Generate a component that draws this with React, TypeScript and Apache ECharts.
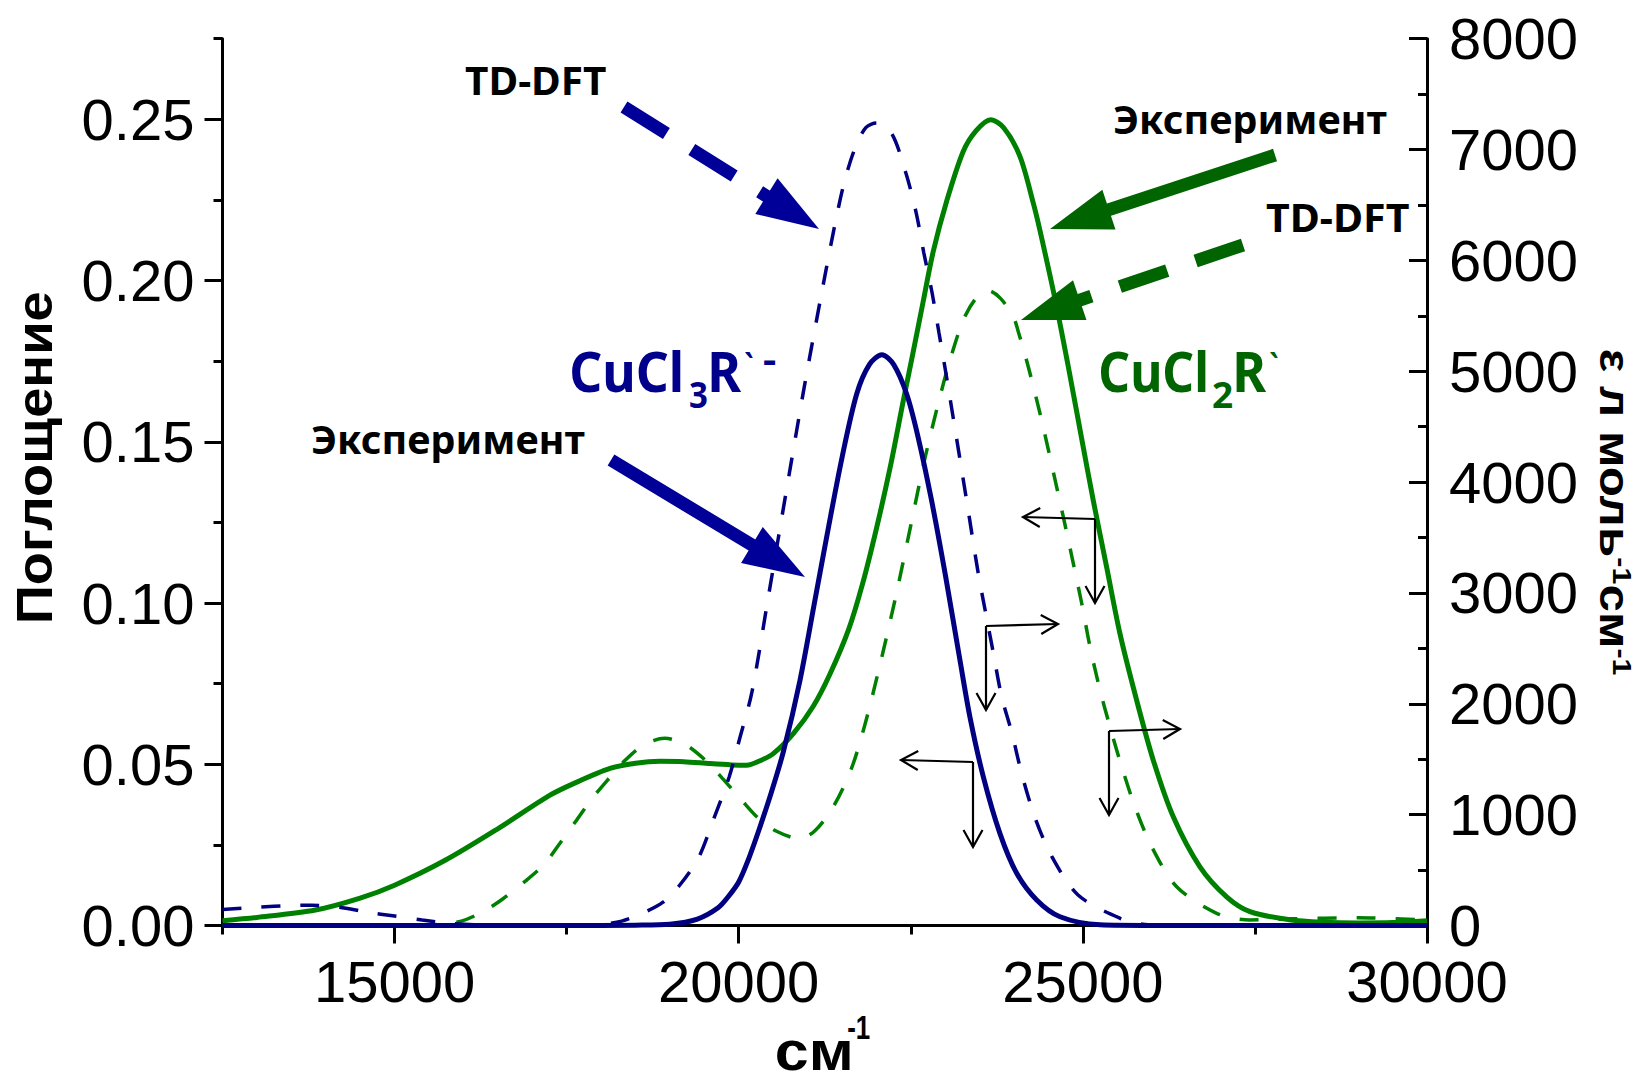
import React, { useEffect, useRef } from "react";
import * as echarts from "echarts";

// ---------- axes ----------
const xTickValues = [15000, 20000, 25000, 30000];
const xMinorTicks = [12500, 17500, 22500, 27500];
const absTickValues = [0, 0.05, 0.1, 0.15, 0.2, 0.25];
const absMinorTicks = [0.025, 0.075, 0.125, 0.175, 0.225, 0.275];
const epsTickValues = [0, 1000, 2000, 3000, 4000, 5000, 6000, 7000, 8000];
const epsMinorTicks = [500, 1500, 2500, 3500, 4500, 5500, 6500, 7500];

// ---------- CuCl3R`- experiment (absorbance, left axis) ----------
const cucl3ExpX = [12500, 17500, 18500, 19000, 19400, 19700, 19850, 20000, 20150, 20300, 20470, 20650, 20890, 21100, 21300, 21500, 21714, 21900, 22080, 22250, 22440, 22600, 22800, 23000, 23215, 23360, 23554, 23796, 24039, 24329, 24668, 25249, 26000, 30000];
const cucl3ExpA = [0, 0, 0.0001, 0.0004, 0.002, 0.0055, 0.009, 0.0135, 0.021, 0.03, 0.041, 0.054, 0.076, 0.1, 0.123, 0.145, 0.1648, 0.174, 0.177, 0.174, 0.1648, 0.152, 0.132, 0.109, 0.0822, 0.0646, 0.0461, 0.0285, 0.0162, 0.0079, 0.0027, 0.0002, 0, 0];

// ---------- CuCl3R`- TD-DFT (epsilon, right axis) ----------
const cucl3CalcX = [12500, 13000, 13500, 13800, 14200, 14600, 15000, 15400, 15800, 16200, 16600, 17500, 18000, 18300, 18600, 18900, 19150, 19420, 19630, 19860, 20020, 20190, 20440, 20700, 20950, 21200, 21400, 21540, 21700, 21850, 22000, 22220, 22430, 22580, 22690, 22810, 22910, 23010, 23310, 23480, 23580, 23700, 23820, 23970, 24110, 24300, 24550, 24930, 25540, 25900, 26500, 30000];
const cucl3CalcEps = [145, 165, 180, 183, 165, 120, 85, 50, 20, 5, 0, 0, 10, 40, 110, 210, 370, 617, 950, 1338, 1700, 2100, 3000, 3950, 4850, 5690, 6330, 6720, 7030, 7200, 7240, 7147, 6786, 6425, 6066, 5706, 5345, 4984, 3839, 3177, 2846, 2456, 2064, 1734, 1373, 981, 621, 275, 65, 10, 0, 0];

// ---------- CuCl2R` experiment (absorbance, left axis) ----------
const cucl2ExpX = [12500, 13000, 13850, 14500, 15000, 15742, 16500, 17258, 17600, 18130, 18500, 18856, 19200, 19583, 19900, 20116, 20300, 20502, 20793, 21083, 21326, 21600, 21800, 22000, 22200, 22391, 22536, 22682, 22827, 23021, 23263, 23450, 23660, 23850, 24086, 24280, 24377, 24600, 24800, 25000, 25152, 25346, 25539, 25782, 26024, 26314, 26701, 27089, 27428, 28000, 28500, 29000, 29500, 30000];
const cucl2ExpA = [0.0015, 0.0025, 0.0048, 0.0085, 0.0125, 0.0203, 0.03, 0.0404, 0.044, 0.0487, 0.0503, 0.0509, 0.0508, 0.0502, 0.0498, 0.0497, 0.051, 0.0533, 0.0595, 0.068, 0.078, 0.092, 0.106, 0.123, 0.142, 0.1627, 0.178, 0.1937, 0.2091, 0.2246, 0.2401, 0.2465, 0.2499, 0.2474, 0.2385, 0.224, 0.2155, 0.1938, 0.172, 0.149, 0.1317, 0.1111, 0.0905, 0.0698, 0.0512, 0.0337, 0.0182, 0.0089, 0.0043, 0.0018, 0.001, 0.0008, 0.0009, 0.0015];

// ---------- CuCl2R` TD-DFT (epsilon, right axis) ----------
const cucl2CalcX = [12500, 15000, 15600, 15970, 16300, 16576, 16900, 17182, 17400, 17636, 17850, 18091, 18350, 18621, 18924, 19205, 19500, 19760, 20030, 20290, 20550, 20870, 21100, 21370, 21640, 21850, 22090, 22300, 22500, 22700, 22924, 23070, 23263, 23450, 23626, 23800, 23989, 24062, 24207, 24400, 24715, 24861, 24983, 25104, 25249, 25394, 25564, 25757, 26000, 26363, 26944, 27428, 28000, 29000, 30000];
const cucl2CalcEps = [0, 0, 10, 40, 130, 241, 400, 558, 740, 943, 1130, 1310, 1490, 1630, 1690, 1640, 1500, 1330, 1140, 965, 850, 785, 850, 1067, 1420, 1850, 2450, 3020, 3610, 4200, 4770, 5101, 5462, 5660, 5727, 5660, 5492, 5357, 5041, 4560, 3688, 3267, 2907, 2515, 2124, 1793, 1433, 1072, 711, 350, 110, 50, 60, 70, 50];

// ---------- styles ----------
const NAVY = "#000080";
const GREEN = "#008000";
const ARROW_BLUE = "#000099";
const ARROW_GREEN = "#006400";
const TEXT_BLUE = "#00008B";
const TEXT_GREEN = "#006400";
const AXIS_FONT = "Liberation Sans";
const NOTE_FONT = "Noto Sans";

const pairs = (xs: number[], ys: number[]) => xs.map((x, i) => [x, ys[i]]);

let mctx: CanvasRenderingContext2D | null = null;
function measure(text: string, size: number, family: string, weight: string) {
  if (!mctx) mctx = document.createElement("canvas").getContext("2d");
  const ctx = mctx!;
  ctx.font = `${weight} ${size}px "${family}"`;
  const m = ctx.measureText(text);
  return {
    adv: m.width,
    abl: m.actualBoundingBoxLeft,
    abr: m.actualBoundingBoxRight,
    central: (m.fontBoundingBoxAscent - m.fontBoundingBoxDescent) / 2,
  };
}

function textStyle(text: string, size: number, family: string, weight: string, color: string) {
  return {
    text,
    fontSize: size,
    fontFamily: family,
    fontWeight: weight,
    fill: color,
    textAlign: "left",
    align: "left",
    textVerticalAlign: "middle",
    verticalAlign: "middle",
  };
}

// horizontal text piece: ink from inkLeft to inkRight, baseline y
function piece(text: string, inkLeft: number, inkRight: number | null, baseline: number, size: number, family: string, weight: string, color: string) {
  const m = measure(text, size, family, weight);
  const ink = m.abl + m.abr;
  const sx = inkRight != null ? (inkRight - inkLeft) / ink : 1;
  return {
    type: "text",
    z: 120,
    x: inkLeft + m.abl * sx,
    y: baseline - m.central,
    scaleX: sx,
    style: textStyle(text, size, family, weight, color),
  };
}

// rotated run of pieces; origin = baseline point where ink starts
type Run = { text: string; size: number; rise?: number };
function rotatedRun(runs: Run[], ox: number, oy: number, theta: number, targetLen: number, family: string, weight: string, color: string) {
  const ms = runs.map((r) => measure(r.text, r.size, family, weight));
  const lb = -ms[0].abl;
  const last = ms[ms.length - 1];
  const rb = last.adv - last.abr;
  const total = ms.reduce((s, m) => s + m.adv, 0) - lb - rb;
  const s = targetLen / total;
  const ct = Math.cos(theta);
  const st = Math.sin(theta);
  let pen = -lb * s;
  const els: any[] = [];
  runs.forEach((r, i) => {
    const m = ms[i];
    const lx = pen;
    const ly = -(r.rise || 0) - m.central;
    els.push({
      type: "text",
      z: 120,
      x: ox + ct * lx + st * ly,
      y: oy - st * lx + ct * ly,
      rotation: theta,
      scaleX: s,
      style: textStyle(r.text, r.size, family, weight, color),
    });
    pen += m.adv * s;
  });
  return els;
}

function fatArrow(x1: number, y1: number, x2: number, y2: number, color: string, dash?: number[]) {
  const shaftW = 13;
  const headL = 62;
  const headW = 42;
  const dx = x2 - x1;
  const dy = y2 - y1;
  const L = Math.hypot(dx, dy);
  const ux = dx / L;
  const uy = dy / L;
  const px = -uy;
  const py = ux;
  const bx = x2 - ux * headL;
  const by = y2 - uy * headL;
  return [
    {
      type: "line",
      z: 110,
      shape: { x1, y1, x2: bx + ux * 3, y2: by + uy * 3 },
      style: { stroke: color, lineWidth: shaftW, lineDash: dash || null, lineCap: "butt" },
    },
    {
      type: "polygon",
      z: 110,
      shape: {
        points: [
          [x2, y2],
          [bx + (px * headW) / 2, by + (py * headW) / 2],
          [bx - (px * headW) / 2, by - (py * headW) / 2],
        ],
      },
      style: { fill: color },
    },
  ];
}

function thinArrow(x1: number, y1: number, x2: number, y2: number) {
  const dx = x2 - x1;
  const dy = y2 - y1;
  const L = Math.hypot(dx, dy);
  const ux = dx / L;
  const uy = dy / L;
  const px = -uy;
  const py = ux;
  const hl = 17;
  const hw = 9.5;
  const st = { stroke: "#000", lineWidth: 2.2, fill: null };
  return [
    { type: "line", z: 115, shape: { x1, y1, x2, y2 }, style: st },
    {
      type: "polyline",
      z: 115,
      shape: {
        points: [
          [x2 - ux * hl + px * hw, y2 - uy * hl + py * hw],
          [x2, y2],
          [x2 - ux * hl - px * hw, y2 - uy * hl - py * hw],
        ],
      },
      style: st,
    },
  ];
}

function buildGraphics() {
  const els: any[] = [];
  // big arrows
  els.push(...fatArrow(624, 107, 819, 229, ARROW_BLUE, [50, 30]));
  els.push(...fatArrow(611, 460, 805, 577, ARROW_BLUE));
  els.push(...fatArrow(1275, 155, 1050, 229, ARROW_GREEN));
  els.push(...fatArrow(1243, 245, 1021, 320, ARROW_GREEN, [50, 30]));
  // small L-shaped pointers
  els.push(...thinArrow(1095, 519, 1023, 517));
  els.push(...thinArrow(1095, 519, 1095, 603));
  els.push(...thinArrow(986, 626, 1058, 624));
  els.push(...thinArrow(986, 626, 986, 710));
  els.push(...thinArrow(1109, 731, 1180, 729));
  els.push(...thinArrow(1109, 731, 1109, 815));
  els.push(...thinArrow(973, 762, 901, 760));
  els.push(...thinArrow(973, 762, 973, 847));

  // annotation texts
  els.push(piece("TD-DFT", 465, 606, 95, 39, NOTE_FONT, "bold", "#000"));
  els.push(piece("Эксперимент", 1114, 1387, 135, 39, NOTE_FONT, "bold", "#000"));
  els.push(piece("TD-DFT", 1266, 1409, 232, 39, NOTE_FONT, "bold", "#000"));
  els.push(piece("Эксперимент", 312, 585, 455, 39, NOTE_FONT, "bold", "#000"));

  // CuCl3R`-
  els.push(piece("CuCl", 572, 681, 392, 55, NOTE_FONT, "bold", TEXT_BLUE));
  els.push(piece("3", 690, 707, 408, 35, NOTE_FONT, "bold", TEXT_BLUE));
  els.push(piece("R", 711, 742, 392, 55, NOTE_FONT, "bold", TEXT_BLUE));
  els.push(piece("`", 745, 753, 380, 35, NOTE_FONT, "bold", TEXT_BLUE));
  els.push(piece("-", 763, 776, 372, 35, NOTE_FONT, "bold", TEXT_BLUE));
  // CuCl2R`
  els.push(piece("CuCl", 1101, 1206, 392, 55, NOTE_FONT, "bold", TEXT_GREEN));
  els.push(piece("2", 1213, 1232, 408, 35, NOTE_FONT, "bold", TEXT_GREEN));
  els.push(piece("R", 1236, 1267, 392, 55, NOTE_FONT, "bold", TEXT_GREEN));
  els.push(piece("`", 1270, 1278, 380, 35, NOTE_FONT, "bold", TEXT_GREEN));

  // x axis name
  els.push(piece("см", 777, 850, 1070, 56, AXIS_FONT, "bold", "#000"));
  els.push(piece("-1", 848, 870, 1039, 33, AXIS_FONT, "bold", "#000"));

  // left axis name (reads bottom to top)
  els.push(...rotatedRun([{ text: "Поглощение", size: 50 }], 52, 621, Math.PI / 2, 329, AXIS_FONT, "bold", "#000"));
  // right axis name (reads top to bottom)
  els.push(
    ...rotatedRun(
      [
        { text: "ε л моль", size: 42 },
        { text: "-1", size: 26, rise: 13 },
        { text: "см", size: 42 },
        { text: "-1", size: 26, rise: 13 },
      ],
      1600,
      350,
      -Math.PI / 2,
      325,
      AXIS_FONT,
      "bold",
      "#000"
    )
  );
  return els;
}

function buildOption() {
  const axisLineStyle = { color: "#000", width: 3 };
  const labelStyle = { fontSize: 58, fontFamily: AXIS_FONT, color: "#000" };
  return {
    animation: false,
    backgroundColor: "#ffffff",
    grid: { left: 222.5, right: 211, top: 38.7, bottom: 155.5, containLabel: false },
    xAxis: [
      {
        type: "value",
        min: 12500,
        max: 30000,
        position: "bottom",
        axisLine: { show: true, onZero: false, lineStyle: axisLineStyle },
        axisTick: { show: true, customValues: xTickValues, length: 18, inside: false, lineStyle: { color: "#000", width: 3 } },
        axisLabel: { show: true, customValues: xTickValues, margin: 30, lineHeight: 52, formatter: (v: number) => String(v), ...labelStyle },
        splitLine: { show: false },
      },
      {
        type: "value",
        min: 12500,
        max: 30000,
        position: "bottom",
        axisLine: { show: false, onZero: false },
        axisTick: { show: true, customValues: xMinorTicks, length: 9, inside: false, lineStyle: { color: "#000", width: 3 } },
        axisLabel: { show: false },
        splitLine: { show: false },
      },
    ],
    yAxis: [
      {
        type: "value",
        min: 0,
        max: 0.275,
        position: "left",
        axisLine: { show: true, onZero: false, lineStyle: axisLineStyle },
        axisTick: { show: true, customValues: absTickValues, length: 18, inside: false, lineStyle: { color: "#000", width: 3 } },
        axisLabel: { show: true, customValues: absTickValues, margin: 28, lineHeight: 48, formatter: (v: number) => v.toFixed(2), ...labelStyle },
        splitLine: { show: false },
      },
      {
        type: "value",
        min: 0,
        max: 0.275,
        position: "left",
        axisLine: { show: false, onZero: false },
        axisTick: { show: true, customValues: absMinorTicks, length: 9, inside: false, lineStyle: { color: "#000", width: 3 } },
        axisLabel: { show: false },
        splitLine: { show: false },
      },
      {
        type: "value",
        min: 0,
        max: 8000,
        position: "right",
        axisLine: { show: true, onZero: false, lineStyle: axisLineStyle },
        axisTick: { show: true, customValues: epsTickValues, length: 18, inside: true, lineStyle: { color: "#000", width: 3 } },
        axisLabel: { show: true, customValues: epsTickValues, margin: 22, lineHeight: 48, formatter: (v: number) => String(v), ...labelStyle },
        splitLine: { show: false },
      },
      {
        type: "value",
        min: 0,
        max: 8000,
        position: "right",
        axisLine: { show: false, onZero: false },
        axisTick: { show: true, customValues: epsMinorTicks, length: 9, inside: true, lineStyle: { color: "#000", width: 3 } },
        axisLabel: { show: false },
        splitLine: { show: false },
      },
    ],
    series: [
      {
        name: "CuCl2R` эксперимент",
        type: "line",
        xAxisIndex: 0,
        yAxisIndex: 0,
        data: pairs(cucl2ExpX, cucl2ExpA),
        showSymbol: false,
        smooth: 0.3,
        lineStyle: { color: GREEN, width: 5, join: "round" },
        itemStyle: { color: GREEN },
        z: 2,
      },
      {
        name: "CuCl2R` TD-DFT",
        type: "line",
        xAxisIndex: 0,
        yAxisIndex: 2,
        data: pairs(cucl2CalcX, cucl2CalcEps),
        showSymbol: false,
        smooth: 0.3,
        lineStyle: { color: GREEN, width: 3.5, type: [19, 20], cap: "butt" },
        itemStyle: { color: GREEN },
        z: 3,
      },
      {
        name: "CuCl3R`- TD-DFT",
        type: "line",
        xAxisIndex: 0,
        yAxisIndex: 2,
        data: pairs(cucl3CalcX, cucl3CalcEps),
        showSymbol: false,
        smooth: 0.3,
        lineStyle: { color: NAVY, width: 3.5, type: [19, 20], cap: "butt" },
        itemStyle: { color: NAVY },
        z: 4,
      },
      {
        name: "CuCl3R`- эксперимент",
        type: "line",
        xAxisIndex: 0,
        yAxisIndex: 0,
        data: pairs(cucl3ExpX, cucl3ExpA),
        showSymbol: false,
        smooth: 0.3,
        lineStyle: { color: NAVY, width: 5, join: "round" },
        itemStyle: { color: NAVY },
        z: 5,
      },
    ],
    graphic: { elements: buildGraphics() },
  };
}

export default function App() {
  const ref = useRef<HTMLDivElement>(null);
  useEffect(() => {
    if (!ref.current) return;
    const chart = echarts.init(ref.current, null, { renderer: "svg" });
    chart.setOption(buildOption() as any);
    return () => chart.dispose();
  }, []);
  return (
    <div
      ref={ref}
      style={{ position: "absolute", left: 0, top: 0, width: 1638, height: 1081, background: "#fff" }}
    />
  );
}
